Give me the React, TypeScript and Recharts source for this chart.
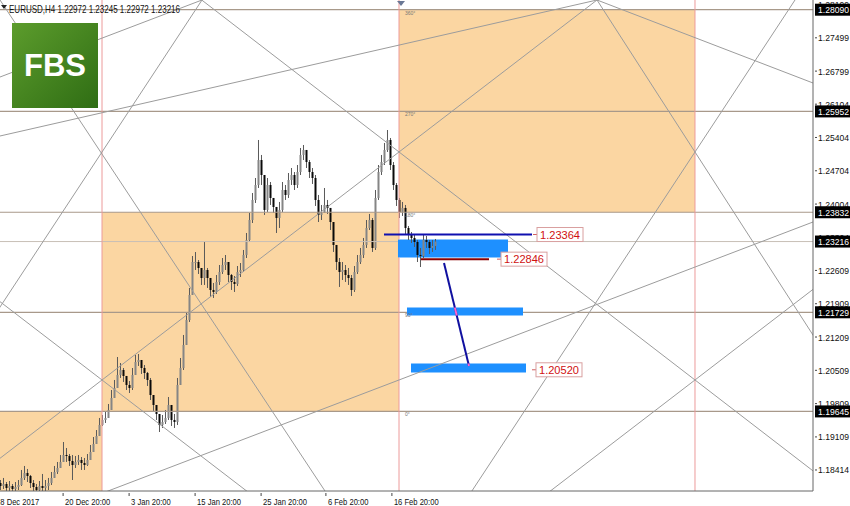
import React from 'react';
import { ComposedChart, Bar, XAxis, YAxis, ReferenceArea, ReferenceLine, ReferenceDot } from 'recharts';

// EURUSD H4, one candle per two H4 bars
const closes = [
  1.18077, 1.18119, 1.18035, 1.18077, 1.18014, 1.18056, 1.18098, 1.18246, 1.18351, 1.18288,
  1.18140, 1.18056, 1.17993, 1.18077, 1.18035, 1.18077, 1.18140, 1.18246, 1.18372, 1.18456,
  1.18582, 1.18729, 1.18708, 1.18603, 1.18519, 1.18582, 1.18624, 1.18561, 1.18519, 1.18624,
  1.18792, 1.18960, 1.19128, 1.19360, 1.19465, 1.19507, 1.19675, 1.19927, 1.20138, 1.20411,
  1.20516, 1.20390, 1.20201, 1.20138, 1.20411, 1.20684, 1.20726, 1.20558, 1.20453, 1.20306,
  1.19990, 1.19780, 1.19591, 1.19360, 1.19423, 1.19507, 1.19780, 1.19465, 1.19423, 1.20201,
  1.20558, 1.21042, 1.21567, 1.22093, 1.22786, 1.22786, 1.22660, 1.22450, 1.22618, 1.22450,
  1.22198, 1.22156, 1.22366, 1.22576, 1.22723, 1.22786, 1.22513, 1.22366, 1.22324, 1.22576,
  1.22618, 1.22934, 1.23249, 1.23669, 1.24090, 1.24405, 1.24930, 1.24615, 1.23880, 1.24405,
  1.24132, 1.23943, 1.23711, 1.23880, 1.24300, 1.24195, 1.24510, 1.24615, 1.24405, 1.24678,
  1.25036, 1.25141, 1.24888, 1.24678, 1.24552, 1.24090, 1.23775, 1.23817, 1.23985, 1.23922,
  1.23627, 1.23144, 1.22786, 1.22576, 1.22618, 1.22513, 1.22450, 1.22198, 1.22576, 1.22786,
  1.22934, 1.23144, 1.23501, 1.23669, 1.23081, 1.24132, 1.24678, 1.24888, 1.25141, 1.25351,
  1.24825, 1.24405, 1.24090, 1.23838, 1.23922, 1.23501, 1.23354, 1.23291, 1.23207, 1.22934,
  1.22913, 1.23249, 1.23207, 1.23081, 1.23123, 1.23216,
];
const highs = [
  1.18203, 1.18246, 1.18161, 1.18182, 1.18119, 1.18161, 1.18203, 1.18414, 1.18498, 1.18435,
  1.18309, 1.18203, 1.18119, 1.18182, 1.18330, 1.18203, 1.18246, 1.18372, 1.18498, 1.18582,
  1.18729, 1.19002, 1.18876, 1.18750, 1.18729, 1.18708, 1.18729, 1.18687, 1.18666, 1.18750,
  1.18939, 1.19107, 1.19254, 1.19507, 1.19570, 1.19633, 1.19801, 1.20095, 1.20306, 1.20789,
  1.20663, 1.20558, 1.20348, 1.20285, 1.20558, 1.20831, 1.20852, 1.20726, 1.20621, 1.20474,
  1.20348, 1.19969, 1.19759, 1.19549, 1.19570, 1.19675, 1.19948, 1.19675, 1.19591, 1.20348,
  1.20768, 1.21252, 1.21735, 1.22240, 1.22912, 1.22996, 1.22828, 1.22618, 1.23207, 1.22660,
  1.22450, 1.22345, 1.22513, 1.22723, 1.22870, 1.22933, 1.22723, 1.22534, 1.22492, 1.22702,
  1.22765, 1.23039, 1.23396, 1.23817, 1.24237, 1.24552, 1.25351, 1.25036, 1.24615, 1.24552,
  1.24468, 1.24132, 1.23922, 1.24048, 1.24468, 1.24405, 1.24657, 1.24762, 1.24678, 1.24825,
  1.25183, 1.25246, 1.25099, 1.24930, 1.24762, 1.24615, 1.24195, 1.23985, 1.24342, 1.24090,
  1.23922, 1.23627, 1.23144, 1.22870, 1.22786, 1.22723, 1.22660, 1.22513, 1.22702, 1.22933,
  1.23081, 1.23291, 1.23669, 1.23796, 1.23711, 1.24300, 1.24825, 1.25036, 1.25288, 1.25561,
  1.25393, 1.24888, 1.24447, 1.24132, 1.24048, 1.23985, 1.23543, 1.23417, 1.23354, 1.23249,
  1.23081, 1.23354, 1.23333, 1.23249, 1.23249, 1.23270,
];
const lows = [
  1.17993, 1.18014, 1.17951, 1.17972, 1.17930, 1.17951, 1.17993, 1.18077, 1.18203, 1.18161,
  1.18035, 1.17951, 1.17909, 1.17972, 1.17951, 1.17972, 1.17993, 1.18098, 1.18246, 1.18330,
  1.18477, 1.18624, 1.18582, 1.18498, 1.18203, 1.18456, 1.18519, 1.18414, 1.18414, 1.18498,
  1.18666, 1.18834, 1.19002, 1.19212, 1.19339, 1.19402, 1.19549, 1.19780, 1.20011, 1.20201,
  1.20348, 1.20264, 1.20095, 1.20032, 1.20095, 1.20516, 1.20600, 1.20432, 1.20327, 1.20180,
  1.19885, 1.19654, 1.19465, 1.19212, 1.19297, 1.19381, 1.19465, 1.19339, 1.19297, 1.19360,
  1.20201, 1.20516, 1.21042, 1.21525, 1.22093, 1.22618, 1.22534, 1.22303, 1.22303, 1.22240,
  1.22051, 1.22030, 1.22114, 1.22303, 1.22534, 1.22618, 1.22366, 1.22198, 1.22156, 1.22282,
  1.22471, 1.22576, 1.22870, 1.23207, 1.23606, 1.24027, 1.24342, 1.24405, 1.23775, 1.23838,
  1.23985, 1.23817, 1.23396, 1.23501, 1.23838, 1.24090, 1.24132, 1.24405, 1.24300, 1.24342,
  1.24615, 1.24930, 1.24762, 1.24552, 1.24426, 1.23964, 1.23627, 1.23669, 1.23838, 1.23796,
  1.23459, 1.22997, 1.22618, 1.22261, 1.22408, 1.22366, 1.22303, 1.22072, 1.22156, 1.22534,
  1.22744, 1.22870, 1.23081, 1.23459, 1.22997, 1.23039, 1.24090, 1.24615, 1.24825, 1.25099,
  1.24720, 1.24300, 1.23964, 1.23711, 1.23754, 1.23354, 1.23249, 1.23186, 1.23102, 1.22786,
  1.22681, 1.22870, 1.23081, 1.22955, 1.22997, 1.23039,
];
const firstOpen = 1.18140;

// price scale
const yTicks = [1.28199, 1.27499, 1.26799, 1.26104, 1.25404, 1.24704, 1.24004, 1.23304, 1.22609, 1.21909, 1.21209, 1.20509, 1.19809, 1.19109, 1.18414];
const markedPrices = [1.28090, 1.25952, 1.23832, 1.21729, 1.19645, 1.23216];
const bidPrice = 1.23216;

// time scale
const timeLabels = ['18 Dec 2017', '20 Dec 20:00', '3 Jan 20:00', '15 Jan 20:00', '25 Jan 20:00', '6 Feb 20:00', '16 Feb 20:00'];
const timeBars = [-2.3, 20.7, 42.7, 64.7, 86.7, 108.3, 130.3];

// gann square
const gridBars = [33.67, 132.67, 231.33];
const gridPrices = [1.28090, 1.25952, 1.23832, 1.21729, 1.19645];
const gridDegrees = ['360°', '270°', '180°', '90°', '0°'];
// each gann line: two anchor points [bar, price], drawn across the whole chart
const gannLines = [
  [[33.67, 1.20306], [132.67, 1.25099]],
  [[33.67, 1.20306], [-65.33, 1.25099]],
  [[132.67, 1.25099], [231.33, 1.20306]],
  [[132.67, 1.20306], [270.67, 1.23627]],
  [[-0.33, 1.28294], [108, 1.17972]],
  [[-0.33, 1.26675], [67, 1.28294]],
  [[67, 1.28294], [33.67, 1.25099]],
  [[198.67, 1.28294], [270.67, 1.26549]],
  [[198.67, 1.28294], [231.33, 1.25099]],
  [[264.67, 1.28294], [231.33, 1.25099]],
  [[231.33, 1.20306], [330.33, 1.25099]],
  [[-0.33, 1.25435], [198.67, 1.28294]],
];

// trade levels
const blueLevel = { price: 1.23364, from: 127.67, to: 177, labelAt: 178.67 };
const redLevel = { price: 1.22846, from: 140, to: 162.67, labelAt: 166.67 };
const targetLevel = { price: 1.20520, labelAt: 178.33 };
const zones = [
  { from: 132.33, to: 169, top: 1.23260, bottom: 1.22880 },
  { from: 135.33, to: 174, top: 1.21830, bottom: 1.21662 },
  { from: 136.67, to: 175, top: 1.20652, bottom: 1.20463 },
];
const pathLine = [[147.67, 1.22765], [156, 1.20600]];

const Y_MIN = 1.17972;
const Y_MAX = 1.28294;
const X_MIN = -0.3333;
const X_MAX = 270.6667;

const data = closes.map((c, i) => {
  const o = i === 0 ? firstOpen : closes[i - 1];
  return {
    bar: i,
    open: o,
    close: c,
    high: Math.max(highs[i], o, c),
    low: Math.min(lows[i], o, c),
  };
});

const ORANGE = '#FBD6A2';
const GRID = '#a8998a';
const PINK = '#ec9a9a';
const DIAG = '#9c9c9c';
const FONT = '"Liberation Sans", Arial, sans-serif';

// stretch a line through two anchors to both chart edges
const across = (l: number[][]) => {
  const [[b1, p1], [b2, p2]] = l;
  const k = (p2 - p1) / (b2 - b1);
  const lo = X_MIN - 5;
  const hi = X_MAX + 5;
  return [
    { x: lo, y: p1 + (lo - b1) * k },
    { x: hi, y: p1 + (hi - b1) * k },
  ];
};

// horizontal / vertical levels are hidden where a blue zone covers them
const hPieces = (p: number) => {
  const cuts = zones.filter((z) => p <= z.top && p >= z.bottom).sort((a, b) => a.from - b.from);
  const out: any[] = [];
  let start = X_MIN - 5;
  cuts.forEach((z) => {
    out.push([{ x: start, y: p }, { x: z.from, y: p }]);
    start = z.to;
  });
  out.push([{ x: start, y: p }, { x: X_MAX + 5, y: p }]);
  return out;
};
const vPieces = (b: number) => {
  const cuts = zones.filter((z) => b >= z.from && b <= z.to).sort((a, c) => c.top - a.top);
  const out: any[] = [];
  let start = Y_MAX + 0.01;
  cuts.forEach((z) => {
    out.push([{ x: b, y: start }, { x: b, y: z.top }]);
    start = z.bottom;
  });
  out.push([{ x: b, y: start }, { x: b, y: Y_MIN - 0.01 }]);
  return out;
};

const Candle = (props: any) => {
  const { x, y, width, height, payload } = props;
  if (height == null || isNaN(y)) return null;
  const { open, close, high, low } = payload;
  const range = high - low || 0.00001;
  const py = (p: number) => y + ((high - p) / range) * height;
  const cx = x + width / 2;
  const bt = py(Math.max(open, close));
  const bb = py(Math.min(open, close));
  const bull = close >= open;
  return (
    <g>
      <line x1={cx} y1={y} x2={cx} y2={y + height} stroke="#5a5a5a" strokeWidth={1} />
      <rect x={cx - 1} y={bt} width={2} height={Math.max(bb - bt, 1)} fill={bull ? '#858585' : '#0a0a0a'} />
    </g>
  );
};

const PriceTick = (props: any) => {
  const { x, y, payload } = props;
  const v = payload.value;
  const marked = markedPrices.includes(v);
  return (
    <g>
      {marked ? (
        <rect x={x} y={y - 6} width={37} height={12} fill="#000" />
      ) : (
        <line x1={x} y1={y} x2={x + 2} y2={y} stroke="#444" />
      )}
      <text x={x + 3} y={y + 3.5} fontSize={9.5} fontFamily={FONT} fill={marked ? '#fff' : '#111'} textLength={31} lengthAdjust="spacingAndGlyphs">
        {v.toFixed(5)}
      </text>
    </g>
  );
};

const TimeTick = (props: any) => {
  const { x, y, index } = props;
  return (
    <g>
      <line x1={x} y1={y} x2={x} y2={y + 3} stroke="#444" />
      <text x={x + 2} y={y + 12} fontSize={9.5} fontFamily={FONT} fill="#111" transform={`translate(${x + 2} 0) scale(0.8 1) translate(${-(x + 2)} 0)`}>
        {timeLabels[index]}
      </text>
    </g>
  );
};

const PriceLabel = (text: string) => (props: any) => {
  const { cx, cy } = props;
  return (
    <g>
      <line x1={cx - 4} y1={cy} x2={cx} y2={cy} stroke="#d06060" />
      <rect x={cx} y={cy - 7} width={46} height={14} fill="#fff" stroke="#d9a0a0" strokeWidth={1} />
      <text x={cx + 3} y={cy + 4} fontSize={11} fontFamily={FONT} fill="#d01010" textLength={40} lengthAdjust="spacingAndGlyphs">
        {text}
      </text>
    </g>
  );
};

const DegreeLabel = (text: string) => (props: any) => {
  const { cx, cy } = props;
  return (
    <text x={cx} y={cy + 5} fontSize={5} fontFamily={FONT} fill="#777">
      {text}
    </text>
  );
};

// pink parts of the path line where it runs over the lower zones
const pathInside = (zone: { top: number; bottom: number }) => {
  const [[b1, p1], [b2, p2]] = pathLine;
  const at = (p: number) => b1 + ((p - p1) / (p2 - p1)) * (b2 - b1);
  const top = Math.min(zone.top, p1);
  const bottom = Math.max(zone.bottom, p2);
  return [
    { x: at(top), y: top },
    { x: at(bottom), y: bottom },
  ];
};

export default function App() {
  return (
    <div style={{ position: 'absolute', left: 0, top: 0, width: 850, height: 506, background: '#fff', overflow: 'hidden' }}>
      <ComposedChart width={850} height={506} data={data} margin={{ top: 0, right: 0, bottom: 0, left: 0 }}>
        <XAxis
          dataKey="bar"
          type="number"
          domain={[X_MIN, X_MAX]}
          allowDataOverflow
          ticks={timeBars}
          interval={0}
          tick={<TimeTick />}
          tickLine={false}
          tickSize={0}
          height={15}
          axisLine={{ stroke: '#666' }}
        />
        <YAxis
          orientation="right"
          type="number"
          domain={[Y_MIN, Y_MAX]}
          allowDataOverflow
          ticks={[...yTicks, ...markedPrices]}
          interval={0}
          tick={<PriceTick />}
          tickLine={false}
          tickSize={0}
          width={37}
          axisLine={{ stroke: '#666' }}
        />

        <ReferenceArea x1={X_MIN} x2={gridBars[0]} y1={Y_MIN} y2={gridPrices[4]} fill={ORANGE} fillOpacity={1} stroke="none" ifOverflow="hidden" />
        <ReferenceArea x1={gridBars[0]} x2={gridBars[1]} y1={gridPrices[4]} y2={gridPrices[2]} fill={ORANGE} fillOpacity={1} stroke="none" ifOverflow="hidden" />
        <ReferenceArea x1={gridBars[1]} x2={gridBars[2]} y1={gridPrices[2]} y2={gridPrices[0]} fill={ORANGE} fillOpacity={1} stroke="none" ifOverflow="hidden" />

        {gridPrices.flatMap((p) =>
          hPieces(p).map((s, j) => <ReferenceLine key={`h${p}-${j}`} segment={s} stroke={GRID} strokeWidth={1.2} ifOverflow="hidden" />)
        )}
        {hPieces(bidPrice).map((s, j) => (
          <ReferenceLine key={`bid${j}`} segment={s} stroke="#c8bfb6" strokeWidth={1} ifOverflow="hidden" />
        ))}
        {gridBars.flatMap((b) =>
          vPieces(b).map((s, j) => <ReferenceLine key={`v${b}-${j}`} segment={s} stroke={PINK} strokeWidth={1} ifOverflow="hidden" />)
        )}
        {gannLines.map((l, i) => (
          <ReferenceLine key={`g${i}`} segment={across(l)} stroke={DIAG} strokeWidth={1} ifOverflow="hidden" />
        ))}
        {gridPrices.map((p, i) => (
          <ReferenceDot key={`d${p}`} x={gridBars[1] + 2} y={p} r={0} ifOverflow="hidden" shape={DegreeLabel(gridDegrees[i])} />
        ))}

        <Bar dataKey={(d: any) => [d.low, d.high]} barSize={2} shape={<Candle />} isAnimationActive={false} />

        {zones.map((z, i) => (
          <ReferenceArea key={`z${i}`} x1={z.from} x2={z.to} y1={z.bottom} y2={z.top} fill="#1e90ff" fillOpacity={1} stroke="none" ifOverflow="hidden" />
        ))}
        <ReferenceLine segment={[{ x: blueLevel.from, y: blueLevel.price }, { x: blueLevel.to, y: blueLevel.price }]} stroke="#1010b0" strokeWidth={2} ifOverflow="hidden" />
        <ReferenceLine segment={[{ x: redLevel.from, y: redLevel.price }, { x: redLevel.to, y: redLevel.price }]} stroke="#8b0000" strokeWidth={2} ifOverflow="hidden" />
        <ReferenceLine segment={[{ x: pathLine[0][0], y: pathLine[0][1] }, { x: pathLine[1][0], y: pathLine[1][1] }]} stroke="#1010a0" strokeWidth={2} ifOverflow="hidden" />
        <ReferenceLine segment={pathInside(zones[1])} stroke="#ff66cc" strokeWidth={2} ifOverflow="hidden" />
        <ReferenceLine segment={pathInside(zones[2])} stroke="#ff66cc" strokeWidth={2} ifOverflow="hidden" />

        <ReferenceDot x={blueLevel.labelAt} y={blueLevel.price} r={0} ifOverflow="visible" shape={PriceLabel('1.23364')} />
        <ReferenceDot x={redLevel.labelAt} y={redLevel.price} r={0} ifOverflow="visible" shape={PriceLabel('1.22846')} />
        <ReferenceDot x={targetLevel.labelAt} y={targetLevel.price} r={0} ifOverflow="visible" shape={PriceLabel('1.20520')} />
      </ComposedChart>

      <svg width={850} height={506} style={{ position: 'absolute', left: 0, top: 0, pointerEvents: 'none' }}>
        <defs>
          <linearGradient id="fbs" x1="0" y1="0" x2="1" y2="1">
            <stop offset="0" stopColor="#5c9c2c" />
            <stop offset="1" stopColor="#2f6d14" />
          </linearGradient>
        </defs>
        <polygon points="1,5 7,5 4,9" fill="#222" />
        <text x={9} y={13} fontSize={10.5} fontFamily={FONT} fill="#111" textLength={171} lengthAdjust="spacingAndGlyphs">
          EURUSD,H4  1.22972 1.23245 1.22972 1.23216
        </text>
        <polygon points="397,1 405,1 401,6" fill="#6a7896" />
        <rect x={12} y={23} width={86} height={85} fill="url(#fbs)" />
        <text x={55} y={76} fontSize={32} fontWeight="bold" fontFamily={FONT} fill="#fff" textAnchor="middle" textLength={62} lengthAdjust="spacingAndGlyphs">
          FBS
        </text>
      </svg>
    </div>
  );
}
